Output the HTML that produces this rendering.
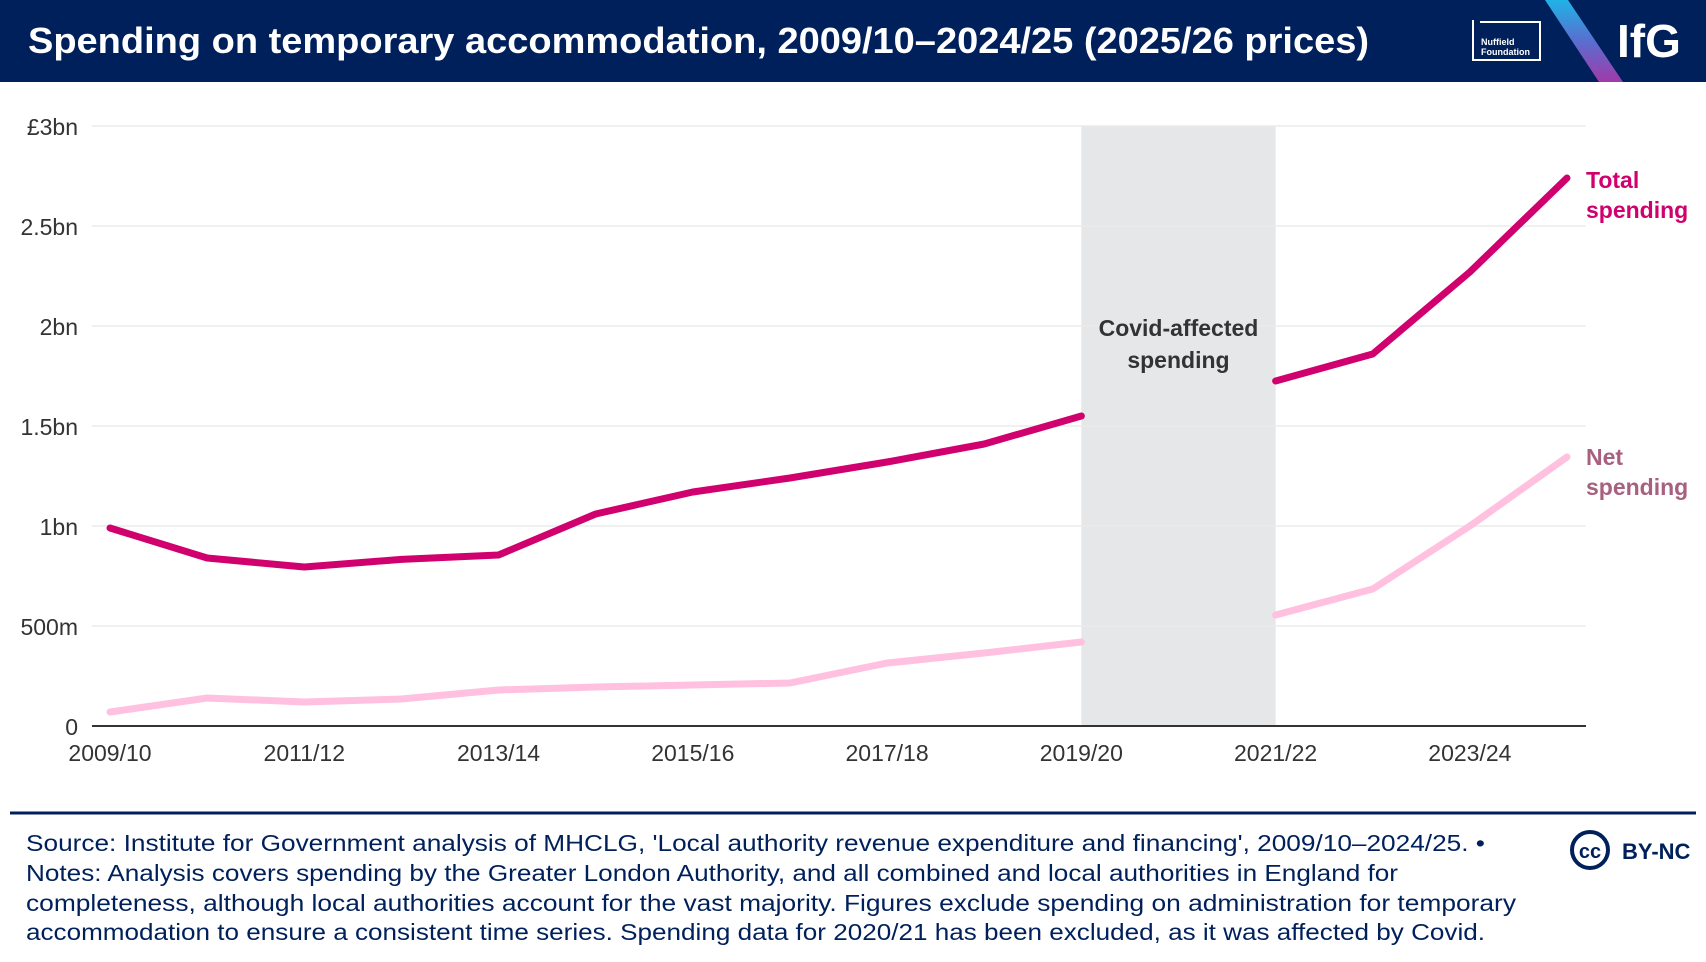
<!DOCTYPE html>
<html><head><meta charset="utf-8">
<style>
body{margin:0;width:1706px;height:962px;overflow:hidden;background:#fff;font-family:"Liberation Sans","DejaVu Sans",sans-serif;}
svg{display:block}
</style></head>
<body>
<svg width="1706" height="962" viewBox="0 0 1706 962">
<defs>
<linearGradient id="stripe" x1="0" y1="0" x2="0" y2="1">
<stop offset="0" stop-color="#1fb3e6"/><stop offset="0.5" stop-color="#5a6ed0"/><stop offset="1" stop-color="#a03aa8"/>
</linearGradient>
</defs>
<rect x="0" y="0" width="1706" height="82" fill="#00205b"/>
<text x="28" y="53" fill="#fff" font-size="36" font-weight="bold" textLength="1341" lengthAdjust="spacingAndGlyphs">Spending on temporary accommodation, 2009/10–2024/25 (2025/26 prices)</text>
<g>
<polyline points="1480,22 1540,22 1540,60 1473,60 1473,20" fill="none" stroke="#fff" stroke-width="2"/>
<text x="1481" y="45" fill="#fff" font-size="9" font-weight="bold">Nuffield</text>
<text x="1481" y="55" fill="#fff" font-size="9" font-weight="bold">Foundation</text>
</g>
<polygon points="1545,0 1568,0 1623,82 1599,82" fill="url(#stripe)"/>
<text x="1617" y="57" fill="#fff" font-size="46" font-weight="bold">IfG</text>

<g id="plot"></g>

<line x1="10" y1="813" x2="1696" y2="813" stroke="#00205b" stroke-width="3"/>
<g font-size="23.5" fill="#00205b">
<text x="26" y="851" textLength="1459" lengthAdjust="spacingAndGlyphs">Source: Institute for Government analysis of MHCLG, 'Local authority revenue expenditure and financing', 2009/10–2024/25. •</text>
<text x="26" y="881" textLength="1372" lengthAdjust="spacingAndGlyphs">Notes: Analysis covers spending by the Greater London Authority, and all combined and local authorities in England for</text>
<text x="26" y="911" textLength="1490" lengthAdjust="spacingAndGlyphs">completeness, although local authorities account for the vast majority. Figures exclude spending on administration for temporary</text>
<text x="26" y="940" textLength="1459" lengthAdjust="spacingAndGlyphs">accommodation to ensure a consistent time series. Spending data for 2020/21 has been excluded, as it was affected by Covid.</text>
</g>
<g>
<circle cx="1590" cy="850" r="18" fill="none" stroke="#00205b" stroke-width="4"/>
<text x="1590" y="858" text-anchor="middle" font-size="20" font-weight="bold" fill="#00205b">cc</text>
<text x="1622" y="859" font-size="22" font-weight="bold" fill="#00205b">BY-NC</text>
</g>
</svg>
<script>
const years=[2009,2010,2011,2012,2013,2014,2015,2016,2017,2018,2019,2020,2021,2022,2023,2024];
const totalSpending=[0.99,0.84,0.795,0.833,0.855,1.06,1.17,1.24,1.32,1.41,1.55,null,1.725,1.86,2.27,2.74];
const netSpending=[0.07,0.14,0.12,0.135,0.18,0.195,0.205,0.215,0.315,0.365,0.42,null,0.555,0.685,1.0,1.345];
const yTicks=[0,0.5,1,1.5,2,2.5,3];
const yTickLabels=["0","500m","1bn","1.5bn","2bn","2.5bn","£3bn"];
const xTickYears=[2009,2011,2013,2015,2017,2019,2021,2023];
const xTickLabels=["2009/10","2011/12","2013/14","2015/16","2017/18","2019/20","2021/22","2023/24"];

const NS="http://www.w3.org/2000/svg";
const g=document.getElementById('plot');
const x=yr=>110+(yr-2009)*(1567-110)/15;
const y=v=>726-v*(726-126)/3;
function mk(t,a){const e=document.createElementNS(NS,t);for(const k in a)e.setAttribute(k,a[k]);g.appendChild(e);return e;}

const band=mk('rect',{x:x(2019),y:y(3),width:x(2021)-x(2019),height:y(0)-y(3),fill:'#e6e7e9'});


yTicks.forEach((v,i)=>{
  if(v>0){const l=mk('line',{x1:92,x2:1586,y1:y(v),y2:y(v),stroke:'#ececec','stroke-width':1.5});
  
  }
  const t=mk('text',{x:78,y:y(v)+9,'text-anchor':'end','font-size':23,fill:'#333'});
  t.textContent=yTickLabels[i];
  
  
});
const ax=mk('line',{x1:92,x2:1586,y1:y(0),y2:y(0),stroke:'#333','stroke-width':2});


xTickYears.forEach((yr,i)=>{
  const t=mk('text',{x:x(yr),y:761,'text-anchor':'middle','font-size':23,fill:'#333'});
  t.textContent=xTickLabels[i];
  
  
});
const c1=mk('text',{x:(x(2019)+x(2021))/2,y:336,'text-anchor':'middle','font-size':23,'font-weight':'bold',fill:'#333'});
c1.textContent='Covid-affected';


const c2=mk('text',{x:(x(2019)+x(2021))/2,y:368,'text-anchor':'middle','font-size':23,'font-weight':'bold',fill:'#333'});
c2.textContent='spending';



function series(vals,color,name){
  let segs=[],cur=[];
  vals.forEach((v,i)=>{if(v==null){if(cur.length)segs.push(cur);cur=[];}else cur.push(x(years[i])+','+y(v));});
  if(cur.length)segs.push(cur);
  segs.forEach(s=>{
    const p=mk('polyline',{points:s.join(' '),fill:'none',stroke:color,'stroke-width':7,'stroke-linecap':'round','stroke-linejoin':'round'});
    
    
  });
}
series(netSpending,'#ffc1df','net-spending-line');
series(totalSpending,'#d1006f','total-spending-line');
[['Total',188,'#d1006f'],['spending',218,'#d1006f'],['Net',465,'#a8607f'],['spending',495,'#a8607f']].forEach(a=>{
  const t=mk('text',{x:1586,y:a[1],'font-size':23,'font-weight':'bold',fill:a[2]});
  t.textContent=a[0];
  
  
});
</script>
</body></html>
